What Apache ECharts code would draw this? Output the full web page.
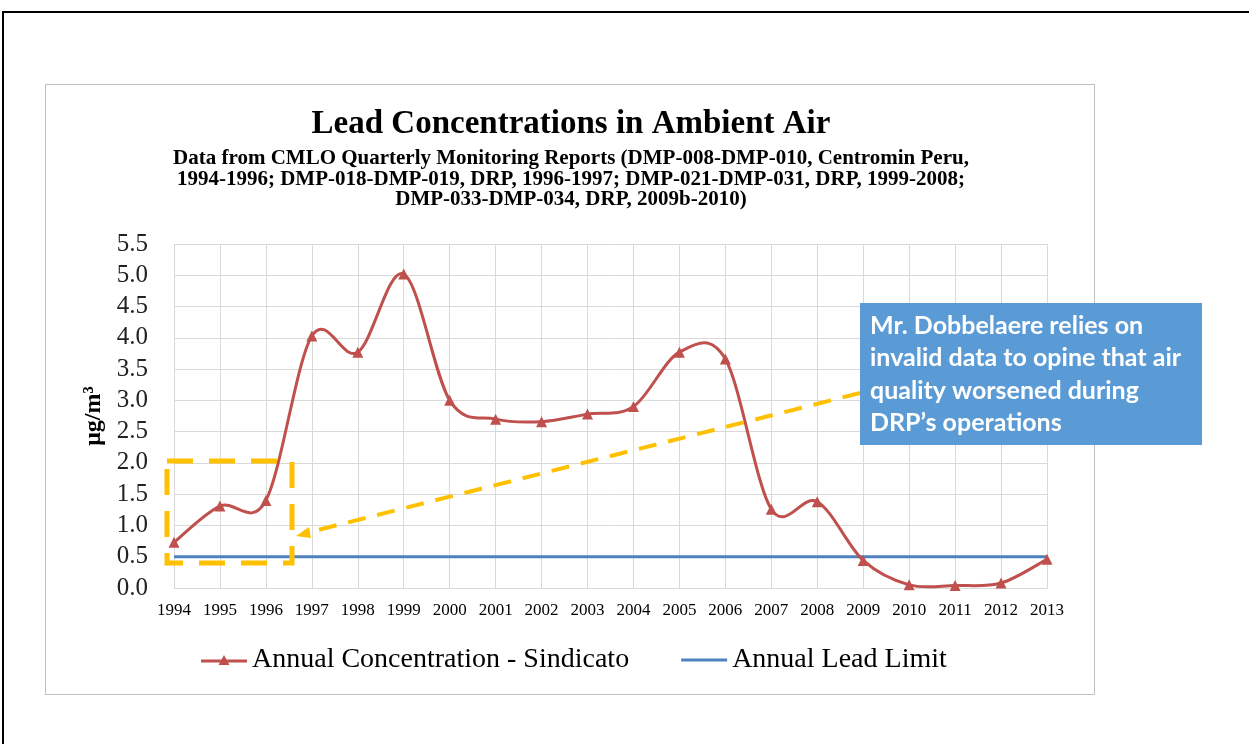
<!DOCTYPE html>
<html>
<head>
<meta charset="utf-8">
<script src="https://cdn.jsdelivr.net/npm/echarts@6/dist/echarts.min.js"></script>
<style>
  html, body { margin: 0; padding: 0; background: #fff; }
  #chart { width: 1249px; height: 744px; }
</style>
</head>
<body>
<div id="chart"></div>
<script>
// Annual lead concentrations (µg/m³), CMLO monitoring, Sindicato station
const years = ['1994','1995','1996','1997','1998','1999','2000','2001','2002','2003',
               '2004','2005','2006','2007','2008','2009','2010','2011','2012','2013'];
const sindicato = [0.73, 1.31, 1.40, 4.03, 3.77, 5.02, 3.00, 2.70, 2.66, 2.78,
                   2.90, 3.77, 3.66, 1.26, 1.38, 0.44, 0.05, 0.04, 0.08, 0.46];
const leadLimit = [0.5, 0.5, 0.5, 0.5, 0.5, 0.5, 0.5, 0.5, 0.5, 0.5,
                   0.5, 0.5, 0.5, 0.5, 0.5, 0.5, 0.5, 0.5, 0.5, 0.5];
const yTicks = { min: 0, max: 5.5, step: 0.5 };

const titleText = 'Lead Concentrations in Ambient Air';
const subtitleLines = [
  'Data from CMLO Quarterly Monitoring Reports (DMP-008-DMP-010, Centromin Peru,',
  '1994-1996; DMP-018-DMP-019, DRP, 1996-1997; DMP-021-DMP-031, DRP, 1999-2008;',
  'DMP-033-DMP-034, DRP, 2009b-2010)'
];
const noteLines = [
  'Mr. Dobbelaere relies on',
  'invalid data to opine that air',
  'quality worsened during',
  'DRP\u2019s operations'
];

const serif = '"Liberation Serif", "Times New Roman", serif';
const gridColor = '#d9d9d9';
const gold = '#FFC000';
const red = '#C0504D';
const blue = '#4F81BD';

const chart = echarts.init(document.getElementById('chart'), null, { renderer: 'canvas' });

const graphics = [
  // page frame
  { type: 'rect', shape: { x: 3, y: 12, width: 1300, height: 800 }, z: 0,
    style: { fill: 'none', stroke: '#000', lineWidth: 2 } },
  // chart frame
  { type: 'rect', shape: { x: 45.5, y: 84.5, width: 1049, height: 610 }, z: 0,
    style: { fill: 'none', stroke: '#bfbfbf', lineWidth: 1 } },
  { type: 'text', x: 571, y: 124, z: 5,
    style: { text: titleText, font: 'bold 33px ' + serif, fill: '#000',
             textAlign: 'center', textVerticalAlign: 'middle' } }
];
subtitleLines.forEach((t, i) => {
  graphics.push({ type: 'text', x: 571, y: 159 + i * 20.5, z: 5,
    style: { text: t, font: 'bold 21px ' + serif, fill: '#000',
             textAlign: 'center', textVerticalAlign: 'middle' } });
});

// callout box
graphics.push({ type: 'rect', shape: { x: 860, y: 303, width: 342, height: 142 }, z: 20,
  style: { fill: '#5B9BD5' } });
noteLines.forEach((t, i) => {
  graphics.push({ type: 'text', x: 870, y: 326 + i * 32.3, z: 21,
    style: { text: t, font: 'bold 25px Lato, "Open Sans", sans-serif', fill: '#fff',
             textAlign: 'left', textVerticalAlign: 'middle' } });
});

// dashed highlight around the early years
graphics.push({ type: 'rect', shape: { x: 167, y: 461, width: 125, height: 102 }, z: 15,
  style: { fill: 'none', stroke: gold, lineWidth: 5, lineDash: [26, 16] } });
// dashed pointer from the callout to the highlight
graphics.push({ type: 'line', shape: { x1: 860, y1: 393, x2: 306, y2: 533 }, z: 15,
  style: { stroke: gold, lineWidth: 4, lineDash: [18, 12] } });
graphics.push({ type: 'polygon', shape: { points: [[296, 536], [309, 527], [311, 538]] }, z: 15,
  style: { fill: gold } });

// Spreadsheet-style smoothed curve: cubic Bezier through every point,
// control points at 1/6 of the neighbouring chord (Catmull-Rom)
function smoothCurve(params, api) {
  const pts = sindicato.map((v, i) => api.coord([i, v]));
  let d = 'M' + pts[0][0] + ',' + pts[0][1];
  for (let i = 0; i < pts.length - 1; i++) {
    const p0 = pts[Math.max(i - 1, 0)];
    const p1 = pts[i];
    const p2 = pts[i + 1];
    const p3 = pts[Math.min(i + 2, pts.length - 1)];
    const c1x = p1[0] + (p2[0] - p0[0]) / 6, c1y = p1[1] + (p2[1] - p0[1]) / 6;
    const c2x = p2[0] - (p3[0] - p1[0]) / 6, c2y = p2[1] - (p3[1] - p1[1]) / 6;
    d += ' C' + c1x + ',' + c1y + ' ' + c2x + ',' + c2y + ' ' + p2[0] + ',' + p2[1];
  }
  return {
    type: 'path',
    shape: { pathData: d },
    style: { fill: 'none', stroke: red, lineWidth: 3, lineJoin: 'round' }
  };
}

const option = {
  backgroundColor: '#fff',
  animation: false,
  grid: { left: 174, right: 202, top: 244, bottom: 156, containLabel: false },
  legend: {
    top: 641, left: 196,
    itemWidth: 46, itemHeight: 12, itemGap: 52,
    textStyle: { fontFamily: serif, fontSize: 28, color: '#000' },
    data: [
      { name: 'Annual Concentration - Sindicato',
        icon: 'path://M0,4.5 L46,4.5 L46,7.5 L0,7.5 Z M23,0 L28.5,10 L17.5,10 Z',
        itemStyle: { color: red } },
      { name: 'Annual Lead Limit', icon: 'path://M0,4.5 L46,4.5 L46,7.5 L0,7.5 Z',
        itemStyle: { color: blue } }
    ]
  },
  xAxis: {
    type: 'category', data: years, boundaryGap: false,
    axisLine: { lineStyle: { color: gridColor, width: 1 } },
    axisTick: { show: false },
    axisLabel: { fontFamily: serif, fontSize: 17, color: '#000', margin: 14 },
    splitLine: { show: true, lineStyle: { color: gridColor, width: 1 } }
  },
  yAxis: {
    type: 'value', min: yTicks.min, max: yTicks.max, interval: yTicks.step,
    name: 'μg/m³', nameLocation: 'middle', nameRotate: 90, nameGap: 60,
    nameTextStyle: { fontFamily: serif, fontSize: 24, fontWeight: 'bold', color: '#000' },
    axisLine: { show: false }, axisTick: { show: false },
    axisLabel: { fontFamily: serif, fontSize: 25, color: '#222', margin: 26,
                 formatter: v => v.toFixed(1) },
    splitLine: { lineStyle: { color: gridColor, width: 1 } }
  },
  series: [
    {
      type: 'custom', coordinateSystem: 'cartesian2d',
      data: [[0, sindicato[0]]], renderItem: smoothCurve, silent: true, z: 3
    },
    {
      name: 'Annual Concentration - Sindicato', type: 'line', data: sindicato,
      symbol: 'triangle', symbolSize: 11, showAllSymbol: true,
      itemStyle: { color: red },
      lineStyle: { width: 0, opacity: 0 }, z: 4
    },
    {
      name: 'Annual Lead Limit', type: 'line', data: leadLimit,
      symbol: 'none', itemStyle: { color: blue },
      lineStyle: { color: blue, width: 3 }, z: 2
    }
  ],
  graphic: graphics
};

chart.setOption(option);
</script>
</body>
</html>
